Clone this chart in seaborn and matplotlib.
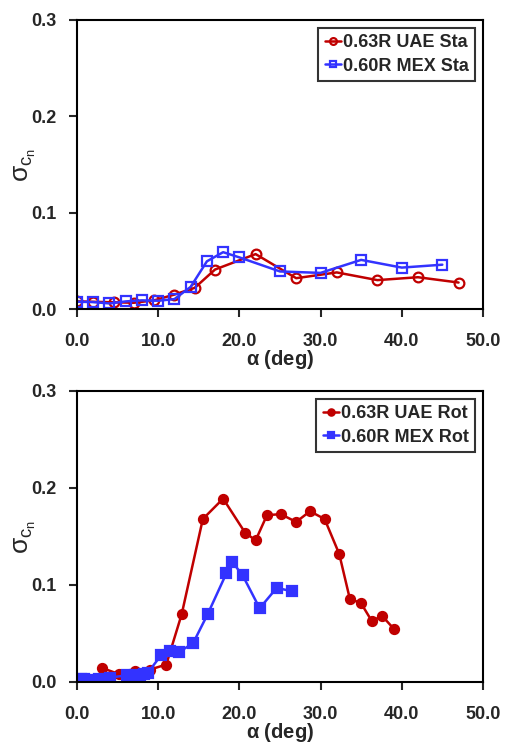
import numpy as np
import pandas as pd
import matplotlib
matplotlib.use("Agg")
import matplotlib.pyplot as plt
import seaborn as sns

# stationary data
uae_sta_alpha = [0, 2, 4.5, 7, 9.5, 12, 14.5, 17, 22, 27, 32, 37, 42, 47]
uae_sta_sigma = [0.008, 0.0075, 0.007, 0.0065, 0.009, 0.015, 0.022, 0.041, 0.057, 0.032, 0.038, 0.030, 0.033, 0.0275]
mex_sta_alpha = [0, 2, 4, 6, 8, 10, 12, 14, 16, 18, 20, 25, 30, 35, 40, 45]
mex_sta_sigma = [0.0076, 0.0072, 0.0058, 0.0079, 0.009, 0.0086, 0.0103, 0.023, 0.0495, 0.059,
                 0.0536, 0.039, 0.0375, 0.051, 0.043, 0.046]

# rotating data
uae_rot_alpha = [3.1, 5.2, 7.2, 9.0, 11.0, 12.9, 15.5, 18.0, 20.7, 22.0, 23.4, 25.1, 27.0,
                 28.7, 30.5, 32.3, 33.6, 35.0, 36.3, 37.6, 39.0]
uae_rot_sigma = [0.0144, 0.008, 0.011, 0.0128, 0.018, 0.070, 0.168, 0.189, 0.154, 0.146, 0.172,
                 0.173, 0.165, 0.176, 0.168, 0.132, 0.086, 0.081, 0.063, 0.068, 0.055]
mex_rot_alpha = [0.5, 0.9, 1.9, 2.7, 4.1, 6.1, 7.2, 7.7, 8.2, 8.7, 10.4, 11.5, 12.6, 14.3,
                 16.1, 18.4, 19.1, 20.4, 22.5, 24.6, 26.5]
mex_rot_sigma = [0.0028, 0.0028, 0.002, 0.0028, 0.0045, 0.0069, 0.0069, 0.0062, 0.008, 0.0093,
                 0.028, 0.0316, 0.031, 0.040, 0.070, 0.112, 0.124, 0.110, 0.076, 0.097, 0.0935]

xticks = [0, 10, 20, 30, 40, 50]
yticks = [0.0, 0.1, 0.2, 0.3]

RED = "#C00000"
BLUE = "#3333FF"

sns.set_style("white")
plt.rcParams['font.family'] = ['Liberation Sans', 'DejaVu Sans']
plt.rcParams['font.weight'] = 'bold'
plt.rcParams['mathtext.default'] = 'regular'

fig = plt.figure(figsize=(5.08, 7.45), dpi=100)
ax1 = fig.add_axes([0.1516, 0.5852, 0.799, 0.388])
ax2 = fig.add_axes([0.1516, 0.0846, 0.799, 0.3906])


def draw(ax, a1, s1, l1, a2, s2, l2, filled):
    sns.lineplot(x=a1, y=s1, ax=ax, color=RED, lw=1.8, marker='o', ms=6.5 if filled else 7,
                 mfc=RED if filled else 'none', mec=RED, mew=1.6, label=l1)
    sns.lineplot(x=a2, y=s2, ax=ax, color=BLUE, lw=1.8, marker='s', ms=6.5 if filled else 7,
                 mfc=BLUE if filled else 'none', mec=BLUE, mew=1.6, label=l2)
    ax.set_xlim(0, 50)
    ax.set_ylim(0, 0.3)
    ax.set_xticks(xticks)
    ax.set_xticklabels([f"{t:.1f}" for t in xticks], fontsize=13, fontweight='bold')
    ax.set_yticks(yticks)
    ax.set_yticklabels([f"{t:.1f}" for t in yticks], fontsize=13, fontweight='bold')
    ax.tick_params(axis='both', direction='out', length=6, width=1.5, bottom=True, left=True,
                   top=False, right=False)
    ax.tick_params(axis='x', pad=11)
    ax.tick_params(axis='y', pad=9)
    for sp in ax.spines.values():
        sp.set_linewidth(1.5)
        sp.set_color('black')
    ax.set_xlabel(r'$\alpha$ (deg)', fontsize=14.5, fontweight='bold', labelpad=-1)
    ax.set_ylabel(r'$\sigma_{c_n}$', fontsize=19, fontweight='normal')
    ax.yaxis.set_label_coords(-0.095, 0.5)
    leg = ax.legend(loc='upper right', fontsize=13, frameon=True, fancybox=False,
                    handlelength=0.9, handletextpad=0.1, borderpad=0.35, labelspacing=0.35,
                    borderaxespad=0.45, markerscale=0.7)
    leg.get_frame().set_edgecolor('black')
    leg.get_frame().set_linewidth(1.5)
    for t in leg.get_texts():
        t.set_fontweight('bold')


draw(ax1, uae_sta_alpha, uae_sta_sigma, '0.63R UAE Sta', mex_sta_alpha, mex_sta_sigma, '0.60R MEX Sta', False)
draw(ax2, uae_rot_alpha, uae_rot_sigma, '0.63R UAE Rot', mex_rot_alpha, mex_rot_sigma, '0.60R MEX Rot', True)

fig.savefig("out.png", dpi=100)
